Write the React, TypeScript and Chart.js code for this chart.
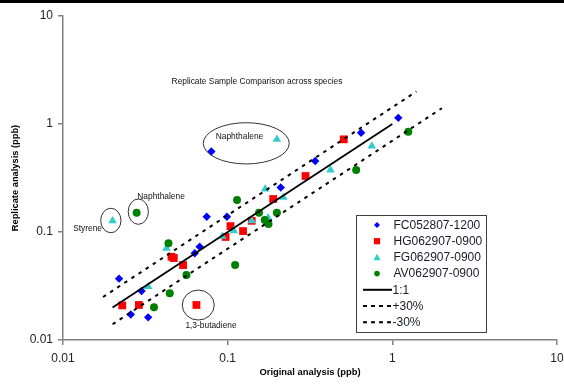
import React, { useEffect, useRef } from "react";
import { Chart, registerables } from "chart.js";

Chart.register(...registerables);

// ---- data (original analysis vs replicate analysis, ppb) ----
const seriesNames = ["FC052807-1200", "HG062907-0900", "FG062907-0900", "AV062907-0900"];

const fcOriginal = [1.087, 0.646, 0.0796, 0.34, 0.21, 0.0746, 0.099, 0.0676, 0.0631, 0.0219, 0.03, 0.0258, 0.0329];
const fcReplicate = [1.14, 0.83, 0.557, 0.455, 0.258, 0.1385, 0.1385, 0.0731, 0.0635, 0.037, 0.0284, 0.0172, 0.0162];

const hgOriginal = [0.507, 0.297, 0.189, 0.14, 0.104, 0.124, 0.0972, 0.0456, 0.0471, 0.0536, 0.0229, 0.0289, 0.0646];
const hgReplicate = [0.721, 0.33, 0.202, 0.127, 0.1134, 0.102, 0.09, 0.059, 0.0574, 0.0494, 0.0209, 0.0211, 0.0211];

const fgOriginal = [0.75, 0.199, 0.421, 0.169, 0.218, 0.176, 0.14, 0.109, 0.0929, 0.0425, 0.0329, 0.02];
const fgReplicate = [0.625, 0.721, 0.375, 0.25, 0.209, 0.135, 0.127, 0.1027, 0.091, 0.0707, 0.0312, 0.127];

const avOriginal = [1.25, 0.603, 0.114, 0.155, 0.199, 0.168, 0.177, 0.0437, 0.111, 0.0562, 0.0445, 0.0357, 0.028];
const avReplicate = [0.848, 0.375, 0.198, 0.151, 0.151, 0.129, 0.1185, 0.0786, 0.0494, 0.04, 0.0271, 0.0201, 0.151];

// reference lines
const lineNames = ["1:1", "+30%", "-30%"];
const oneToOneX = [0.02, 1];
const oneToOneY = [0.02, 1];
const plus30X = [0.0175, 1.4];
const plus30Y = [0.025, 2.0];
const minus30X = [0.02, 2.0];
const minus30Y = [0.014, 1.4];

// axis ticks
const axisTicks = [0.01, 0.1, 1, 10];

// text annotations (data coords of text centre)
const noteTexts = [
  "Replicate Sample Comparison across species",
  "Naphthalene",
  "Styrene",
  "Naphthalene",
  "1,3-butadiene",
];
const noteX = [0.1507, 0.118, 0.0141, 0.0394, 0.0792];
const noteY = [2.465, 0.758, 0.1067, 0.211, 0.0135];

// ellipses (data-coord bounding boxes)
const ellipseXMin = [0.0711, 0.01694, 0.0249, 0.053];
const ellipseXMax = [0.2366, 0.0225, 0.033, 0.0829];
const ellipseYMin = [0.4266, 0.0985, 0.1178, 0.0153];
const ellipseYMax = [1.028, 0.1658, 0.2021, 0.029];

const FONT = "Arial, 'Liberation Sans', sans-serif";

function pts(xs: number[], ys: number[]) {
  return xs.map((x, i) => ({ x, y: ys[i] }));
}

function drawMarker(ctx: CanvasRenderingContext2D, style: string, x: number, y: number, r: number, color: string) {
  ctx.save();
  ctx.fillStyle = color;
  ctx.beginPath();
  if (style === "rectRot") {
    ctx.moveTo(x, y - r);
    ctx.lineTo(x + r, y);
    ctx.lineTo(x, y + r);
    ctx.lineTo(x - r, y);
    ctx.closePath();
  } else if (style === "rect") {
    ctx.rect(x - r, y - r, 2 * r, 2 * r);
  } else if (style === "triangle") {
    ctx.moveTo(x, y - r);
    ctx.lineTo(x + r, y + r * 0.8);
    ctx.lineTo(x - r, y + r * 0.8);
    ctx.closePath();
  } else {
    ctx.arc(x, y, r, 0, Math.PI * 2);
  }
  ctx.fill();
  ctx.restore();
}

const overlayPlugin = {
  id: "overlay",
  beforeDraw(chart: any) {
    const { ctx, width, height } = chart;
    ctx.save();
    ctx.fillStyle = "#ffffff";
    ctx.fillRect(0, 0, width, height);
    ctx.fillStyle = "#000000";
    ctx.fillRect(0, 0, width, 3);
    ctx.restore();
  },
  afterDraw(chart: any) {
    const { ctx } = chart;
    const xs = chart.scales.x;
    const ys = chart.scales.y;
    ctx.save();
    // ellipses
    ctx.strokeStyle = "#333333";
    ctx.lineWidth = 1;
    for (let i = 0; i < ellipseXMin.length; i++) {
      const x1 = xs.getPixelForValue(ellipseXMin[i]);
      const x2 = xs.getPixelForValue(ellipseXMax[i]);
      const y1 = ys.getPixelForValue(ellipseYMax[i]);
      const y2 = ys.getPixelForValue(ellipseYMin[i]);
      ctx.beginPath();
      ctx.ellipse((x1 + x2) / 2, (y1 + y2) / 2, (x2 - x1) / 2, (y2 - y1) / 2, 0, 0, Math.PI * 2);
      ctx.stroke();
    }
    // notes
    ctx.fillStyle = "#111111";
    ctx.font = `8.4px ${FONT}`;
    ctx.textAlign = "center";
    ctx.textBaseline = "middle";
    for (let i = 0; i < noteTexts.length; i++) {
      ctx.fillText(noteTexts[i], xs.getPixelForValue(noteX[i]), ys.getPixelForValue(noteY[i]));
    }
    // legend box
    const bx = 356, by = 215, bw = 130, bh = 117;
    ctx.fillStyle = "#ffffff";
    ctx.fillRect(bx, by, bw, bh);
    ctx.strokeStyle = "#404040";
    ctx.lineWidth = 1;
    ctx.strokeRect(bx + 0.5, by + 0.5, bw, bh);
    ctx.font = `12px ${FONT}`;
    ctx.textAlign = "left";
    ctx.textBaseline = "middle";
    const ds = chart.data.datasets;
    const rowH = 16.2;
    const sizes = [3, 3.1, 3.6, 2.8];
    for (let i = 0; i < ds.length; i++) {
      const d = ds[i];
      const cy = by + 10 + i * rowH;
      if (!d.showLine) {
        drawMarker(ctx, d.pointStyle, 377, cy, sizes[i] || 3, d.backgroundColor);
      } else {
        ctx.save();
        ctx.strokeStyle = "#000";
        ctx.lineWidth = 2;
        if (d.borderDash && d.borderDash.length) ctx.setLineDash([4, 4]);
        ctx.beginPath();
        ctx.moveTo(363, cy);
        ctx.lineTo(392, cy);
        ctx.stroke();
        ctx.restore();
      }
      ctx.fillStyle = "#1a1a2a";
      ctx.fillText(d.label, d.showLine ? 392.5 : 393.5, cy + 0.5);
    }
    ctx.restore();
  },
};

export default function App() {
  const ref = useRef<HTMLCanvasElement | null>(null);
  useEffect(() => {
    if (!ref.current) return;
    const chart = new Chart(ref.current, {
      type: "scatter",
      data: {
        datasets: [
          {
            label: seriesNames[0],
            data: pts(fcOriginal, fcReplicate),
            pointStyle: "rectRot",
            pointRadius: 4.2,
            backgroundColor: "#0000ff",
            borderColor: "#0000ff",
            pointBorderWidth: 0,
            showLine: false,
            order: 7,
          },
          {
            label: seriesNames[1],
            data: pts(hgOriginal, hgReplicate),
            pointStyle: "rect",
            pointRadius: 5.5,
            backgroundColor: "#ff0000",
            borderColor: "#ff0000",
            pointBorderWidth: 0,
            showLine: false,
            order: 6,
          },
          {
            label: seriesNames[2],
            data: pts(fgOriginal, fgReplicate),
            pointStyle: "triangle",
            pointRadius: 4.9,
            backgroundColor: "#33cccc",
            borderColor: "#33cccc",
            pointBorderWidth: 0,
            showLine: false,
            order: 5,
          },
          {
            label: seriesNames[3],
            data: pts(avOriginal, avReplicate),
            pointStyle: "circle",
            pointRadius: 4,
            backgroundColor: "#008000",
            borderColor: "#008000",
            pointBorderWidth: 0,
            showLine: false,
            order: 4,
          },
          {
            label: lineNames[0],
            data: pts(oneToOneX, oneToOneY),
            showLine: true,
            borderColor: "#000000",
            backgroundColor: "#000000",
            borderWidth: 1.8,
            pointRadius: 0,
            order: 1,
          },
          {
            label: lineNames[1],
            data: pts(plus30X, plus30Y),
            showLine: true,
            borderColor: "#000000",
            backgroundColor: "#000000",
            borderWidth: 2,
            borderDash: [3.5, 5],
            pointRadius: 0,
            order: 2,
          },
          {
            label: lineNames[2],
            data: pts(minus30X, minus30Y),
            showLine: true,
            borderColor: "#000000",
            backgroundColor: "#000000",
            borderWidth: 2,
            borderDash: [3.5, 5],
            pointRadius: 0,
            order: 3,
          },
        ],
      },
      options: {
        responsive: false,
        animation: false,
        devicePixelRatio: 1,
        layout: { padding: { top: 16, right: 7, left: 0, bottom: 0 } },
        plugins: { legend: { display: false }, tooltip: { enabled: false } },
        scales: {
          x: {
            type: "logarithmic",
            min: 0.01,
            max: 10,
            afterBuildTicks: (s: any) => {
              s.ticks = axisTicks.map((v) => ({ value: v }));
            },
            afterFit: (s: any) => {
              s.height = 47;
              s.paddingLeft = 0;
              s.paddingRight = 0;
            },
            ticks: {
              callback: (v: any) => String(v),
              font: { family: FONT, size: 12 },
              color: "#222222",
              padding: 6,
              maxRotation: 0,
              autoSkip: false,
            },
            grid: { display: true, drawOnChartArea: false, drawTicks: true, tickLength: 5, color: "#808080", lineWidth: 1.5 },
            border: { display: true, color: "#808080", width: 1.5 },
            title: {
              display: true,
              text: "Original analysis (ppb)",
              font: { family: FONT, size: 9.4, weight: "bold" },
              color: "#000000",
              padding: { top: 0, bottom: 9 },
            },
          },
          y: {
            type: "logarithmic",
            min: 0.01,
            max: 10,
            afterBuildTicks: (s: any) => {
              s.ticks = axisTicks.map((v) => ({ value: v }));
            },
            afterFit: (s: any) => {
              s.width = 63;
              s.paddingTop = 0;
              s.paddingBottom = 0;
            },
            ticks: {
              callback: (v: any) => String(v),
              font: { family: FONT, size: 12 },
              color: "#222222",
              padding: 5,
              autoSkip: false,
            },
            grid: { display: true, drawOnChartArea: false, drawTicks: true, tickLength: 5, color: "#808080", lineWidth: 1.5 },
            border: { display: true, color: "#808080", width: 1.5 },
            title: {
              display: true,
              text: "Replicate analysis (ppb)",
              font: { family: FONT, size: 9.3, weight: "bold" },
              color: "#000000",
              padding: { top: 10, bottom: 0 },
            },
          },
        },
      } as any,
      plugins: [overlayPlugin],
    });
    return () => chart.destroy();
  }, []);
  return (
    <div style={{ position: "absolute", left: 0, top: 0, width: 564, height: 387, background: "#fff" }}>
      <canvas ref={ref} width={564} height={387} style={{ display: "block", width: 564, height: 387 }} />
    </div>
  );
}
